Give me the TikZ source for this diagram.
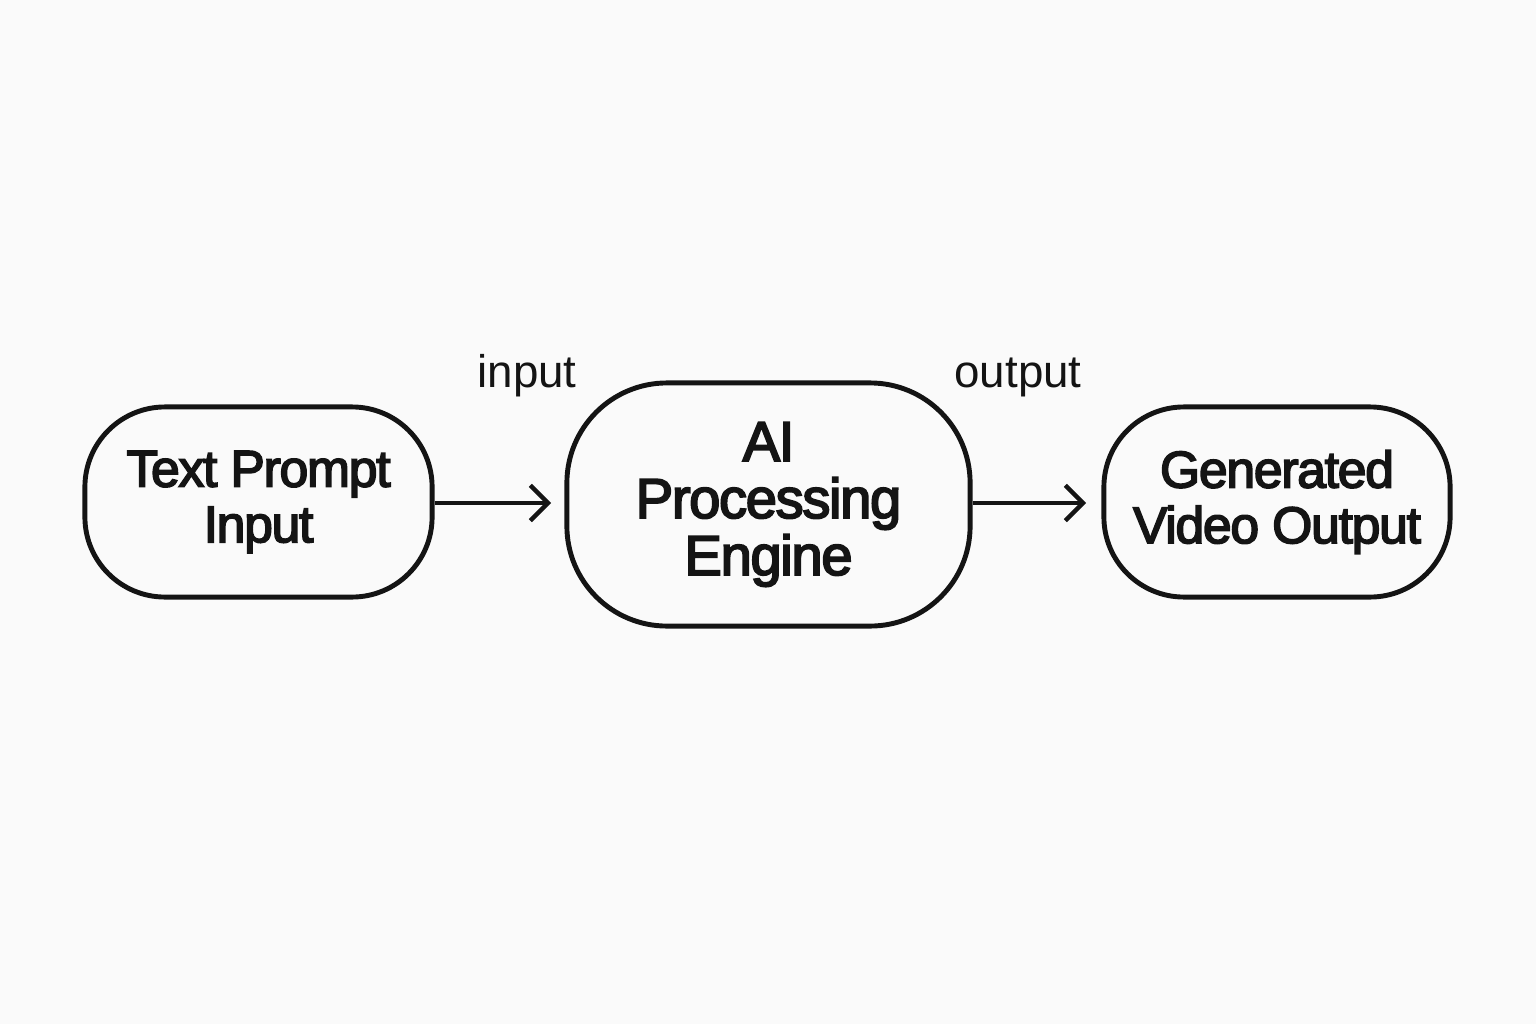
\documentclass[tikz,border=0pt]{standalone}
\usepackage{fontspec}
\setmainfont{Liberation Sans}
\newfontfamily\boxfont[LetterSpace=-2.5,FakeBold=3.2]{Liberation Sans}
\usetikzlibrary{arrows.meta}
\definecolor{bg}{RGB}{250,250,250}
\definecolor{ink}{RGB}{20,20,20}
\begin{document}
\begin{tikzpicture}[x=0.01cm,y=-0.01cm,
  box/.style={draw=ink,line width=1.4pt,rounded corners=#1,align=center,
    font=\boxfont\fontsize{14.7}{15.8}\selectfont,text=ink,inner sep=0pt},
  conn/.style={draw=ink,line width=1.25pt,-{Straight Barb[length=5pt,width=10pt,line width=1.25pt]}},
  lab/.style={font=\fontsize{13}{15}\selectfont,text=ink,anchor=base,inner sep=0pt}]
\fill[bg] (0,0) rectangle (1536,1024);
\useasboundingbox (0,0) rectangle (1536,1024);
\node[box=0.8cm,minimum width=3.47cm,minimum height=1.90cm] (a) at (258.5,502) {Text Prompt\\Input};
\node[box=1.0cm,minimum width=4.03cm,minimum height=2.43cm,font=\boxfont\fontsize{16}{16.2}\selectfont] (b) at (768.5,504.5) {AI\\Processing\\Engine};
\node[box=0.8cm,minimum width=3.46cm,minimum height=1.90cm] (c) at (1277,502) {Generated\\Video Output};
\coordinate (ae) at (551,503);
\coordinate (be) at (1086,503);
\draw[conn] (a.east |- 0,503) -- (ae);
\draw[conn] (b.east |- 0,503) -- (be);
\node[lab] (li) at (527,387) {input};
\node[lab] (lo) at (1018,387) {output};
\end{tikzpicture}
\end{document}
